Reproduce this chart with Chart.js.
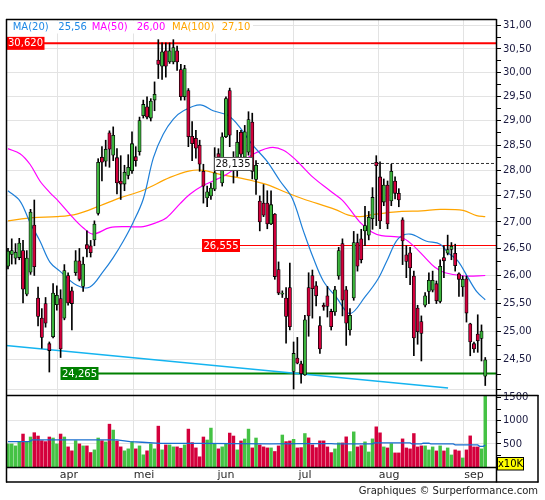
<!DOCTYPE html>
<html><head><meta charset="utf-8">
<script src="https://cdn.jsdelivr.net/npm/chart.js"></script>
<style>
html,body{margin:0;padding:0;background:#fff;}
#wrap{position:relative;width:545px;height:500px;background:#fff;}
canvas{position:absolute;left:0;top:0;}
</style></head><body>
<div id="wrap">
<canvas id="price" width="545" height="500"></canvas>
<canvas id="vol" width="545" height="500"></canvas>
</div>
<script>
// ---------- DATA ----------
const monthLabels = ['apr','mei','jun','jul','aug','sep'];
const monthTicks  = [13.3, 33.3, 55.1, 76.1, 98.5, 121.1];

const priceTicks = [24,24.25,24.5,24.75,25,25.25,25.5,25.75,26,26.25,26.5,26.75,27,27.25,27.5,27.75,28,28.25,28.5,28.75,29,29.25,29.5,29.75,30,30.25,30.5,30.75,31];
const priceTickLabelsFrom = 24.5;
const volumeTicks = [250,500,750,1000,1250,1500];

const open = [26.17,26.39,26.32,26.33,26.46,25.66,26.06,26.94,25.59,25.23,
 25.49,24.78,24.90,25.47,25.58,25.23,26.00,25.72,26.05,26.27,
 25.80,26.57,26.55,26.66,27.16,28.26,28.18,28.75,28.30,28.25,
 27.79,27.73,27.90,27.99,28.27,28.37,29.10,29.28,29.05,29.42,
 30.26,30.13,30.46,30.22,30.22,30.46,30.06,29.49,29.62,28.68,
 28.64,28.50,27.98,27.46,27.50,27.63,28.33,27.75,28.67,29.62,
 28.20,28.26,28.76,28.26,28.36,28.97,27.82,27.40,27.36,27.36,
 26.96,27.15,26.11,25.66,25.59,25.78,24.30,24.53,24.43,24.24,
 25.78,26.00,25.81,25.10,25.46,25.63,25.35,25.34,25.99,26.59,
 25.74,25.02,25.59,26.61,26.68,26.83,26.75,27.06,28.16,27.87,
 27.38,27.71,27.40,27.79,27.55,27.04,26.38,26.42,25.99,25.41,
 25.17,25.46,25.71,25.73,25.85,25.53,26.33,26.41,26.48,26.41,
 26.03,25.79,25.94,25.13,24.78,24.95,24.87,24.22];
const high = [26.50,26.68,26.59,26.69,26.65,26.46,27.24,27.42,25.79,25.40,
 25.60,24.81,25.85,25.81,25.74,26.20,26.05,25.79,26.46,26.50,
 26.34,26.83,26.65,27.02,28.23,28.47,28.60,28.79,28.87,28.43,
 28.29,28.10,28.31,28.77,28.47,29.07,29.42,29.49,29.45,29.80,
 30.70,30.63,30.63,30.63,30.70,30.56,30.17,30.15,29.66,28.98,
 28.80,28.60,28.12,27.69,27.75,28.45,28.43,28.75,29.49,29.67,
 28.37,28.80,28.80,28.90,29.18,29.15,28.19,27.50,27.72,27.60,
 27.60,27.16,26.25,25.72,25.78,26.23,24.81,24.89,24.48,25.28,
 26.05,26.10,25.89,25.26,25.50,25.80,25.39,25.80,26.52,26.68,
 25.80,25.40,26.82,26.77,26.86,27.30,27.20,27.66,28.29,28.17,
 27.83,27.79,28.12,27.87,27.64,27.08,26.55,26.52,26.08,25.46,
 25.27,25.69,26.05,26.08,25.90,26.29,26.55,26.75,26.61,26.58,
 26.05,25.99,25.99,25.14,24.81,25.29,25.11,24.54];
const low = [26.12,26.21,26.21,26.29,25.50,25.63,26.02,26.00,25.09,24.70,
 25.07,24.29,24.88,25.37,24.54,25.20,25.46,25.02,26.00,25.90,
 25.71,26.34,26.34,26.55,27.13,27.79,28.08,28.06,28.19,27.54,
 27.43,27.60,27.83,27.94,28.08,28.30,29.05,29.03,28.99,29.20,
 29.87,29.85,29.90,30.19,30.18,30.04,29.42,29.42,28.47,28.19,
 28.24,27.98,27.36,27.29,27.43,27.60,28.08,27.69,28.65,28.47,
 27.75,27.88,28.19,28.19,28.30,27.83,27.53,26.83,27.10,26.87,
 26.95,25.93,25.65,25.60,24.79,25.02,24.00,24.43,24.10,24.23,
 24.91,25.23,25.45,24.61,25.37,25.25,25.02,25.28,25.93,25.27,
 24.75,24.93,25.55,26.08,26.23,26.55,26.66,26.86,26.93,26.87,
 27.31,26.87,27.31,27.44,27.29,26.20,25.96,25.83,24.57,24.77,
 24.48,25.43,25.49,25.70,25.49,25.50,25.96,26.38,26.29,26.08,
 25.62,25.62,25.16,24.57,24.63,24.63,24.48,24.06];
const close = [26.45,26.46,26.43,26.60,25.75,26.32,27.19,26.16,25.26,24.89,
 25.14,24.66,25.68,25.64,24.69,26.09,25.50,25.49,26.27,25.93,
 26.21,26.49,26.42,26.96,28.16,28.16,28.42,28.42,28.70,27.75,
 27.73,27.96,28.06,28.53,28.19,29.00,29.33,29.07,29.40,29.54,
 30.17,30.44,30.13,30.46,30.53,30.22,29.49,30.08,28.67,28.53,
 28.44,28.12,27.69,27.58,27.65,27.95,28.26,28.67,29.45,28.70,
 28.06,28.56,28.32,28.77,29.02,27.98,28.10,27.00,27.13,26.96,
 27.33,25.98,25.68,25.68,25.26,25.08,24.61,24.44,24.26,25.20,
 25.27,25.76,25.63,24.69,25.43,25.44,25.08,25.74,26.46,25.55,
 25.14,25.28,26.61,26.17,26.29,26.93,27.09,27.47,28.09,27.02,
 27.71,26.96,27.98,27.55,27.42,26.64,26.26,26.14,24.88,24.99,
 24.96,25.63,25.91,25.91,25.54,26.17,26.27,26.48,26.54,26.18,
 25.93,25.93,25.32,24.81,24.69,24.83,25.00,24.50];
const volume = [500,500,457,550,714,550,650,743,671,571,
 550,650,628,500,714,650,436,350,571,500,
 457,457,314,371,628,571,543,928,800,564,
 436,350,393,550,393,457,264,350,500,393,
 885,371,478,478,436,436,407,478,821,528,
 414,221,650,585,843,500,393,436,500,735,
 671,371,564,607,821,414,628,478,436,414,
 414,336,457,693,550,564,600,414,420,725,
 631,479,420,566,566,435,312,392,522,522,
 653,334,761,435,464,544,326,609,870,740,
 435,413,508,305,305,609,413,392,725,435,
 457,457,370,435,348,457,348,413,261,370,
 348,196,370,674,435,435,392,1580];

// moving averages: [bar index, value]
const ma20 = [[0,27.60],[3.2,27.40],[5.85,26.99],[8.5,26.64],[11.2,26.24],[13.8,26.08],[18.3,25.82],[21.8,25.79],[25.4,26.08],[28.0,26.33],[30.7,26.64],[33.3,26.99],[36.0,27.44],[38.7,28.25],[41.3,28.72],[44.0,29.03],[46.7,29.20],[51.1,29.32],[54.6,29.20],[58.6,29.10],[61.7,28.86],[64.9,28.52],[68.8,28.19],[72.4,27.79],[75.6,27.46],[78.6,26.83],[81.2,26.33],[83.9,25.90],[87.4,25.60],[91.0,25.31],[95.0,25.61],[98.5,25.94],[101.1,26.31],[103.8,26.68],[107.0,26.77],[111.2,26.64],[115.0,26.58],[117.1,26.42],[119.7,26.27],[122.4,25.96],[124.8,25.70],[127,25.56]];
const ma50 = [[0,28.43],[3.2,28.33],[5.85,28.12],[8.5,27.79],[11.2,27.56],[13.4,27.40],[17.3,27.08],[20.0,26.89],[22.6,26.77],[27.1,26.89],[31.6,26.91],[36.0,26.91],[39.6,26.99],[42.2,27.08],[45.8,27.35],[48.4,27.53],[51.9,27.70],[58.2,27.92],[64.4,28.28],[69.7,28.45],[73.3,28.40],[76.8,28.19],[81.2,27.86],[85.7,27.60],[89.2,27.40],[93.7,26.99],[96.8,26.81],[99.4,26.74],[104.8,26.70],[107.4,26.58],[111.0,26.33],[113.6,26.15],[116.3,26.05],[121.6,25.99],[127,26.00]];
const ma100 = [[0,27.02],[6.7,27.08],[13.0,27.10],[18.3,27.15],[24.5,27.31],[29.8,27.46],[36.0,27.61],[43.1,27.86],[48.4,27.99],[52.0,28.00],[56.4,27.92],[60.9,27.86],[65.3,27.79],[69.7,27.70],[74.2,27.56],[78.6,27.44],[87.0,27.24],[90.6,27.13],[93.7,27.10],[97.1,27.14],[104.8,27.20],[110.1,27.21],[115.0,27.24],[121.1,27.22],[124.7,27.12],[127,27.10]];
const volMA = [[0,550],[5.8,550],[6.4,586],[29,586],[32.5,550],[35.7,536],[40.4,514],[51,514],[69.7,500],[78,507],[86,505],[87,500],[97,500],[97.5,522],[107,522],[107.5,500],[110,500],[110.5,515],[112,515],[112.5,500],[118.5,500],[119,478],[125,478],[125.5,449],[126.5,449],[127,478]];
const trendLine = [[-0.53,24.75],[117.1,24.02]];

const levels = [30.62, 26.555, 24.265, 28.135];
const levelTexts = ['30,620','26,555','24,265','28,135'];
const legendTexts = ['MA(20)','25,56','MA(50)','26,00','MA(100)','27,10'];
const footerText = 'Graphiques \u00A9 Surperformance.com';
const volUnitText = 'x10K';

// ---------- STYLE ----------
Chart.defaults.font.family = '"DejaVu Sans", Verdana, sans-serif';
const GRID = '#e3e3e3';
const UP = '#3cb43c', DOWN = '#d2003c';
const VUP = '#44c244', VDOWN = '#d4003c';
const XMIN = -0.53, XMAX = 129.86;
const pts = a => a.map(p => ({x:p[0], y:p[1]}));
const isHalf = v => Math.abs(v*2 - Math.round(v*2)) < 1e-6;

const candleColors = open.map((o,i) => close[i] >= o ? UP : DOWN);
const volColors = open.map((o,i) => close[i] >= o ? VUP : VDOWN);

const levelStyles = [
  {color:'#ff0000', width:2, x0:6, boxX:6.5, bg:'#ff0000', fg:'#fff', dash:[]},
  {color:'#ff0000', width:1.2, x0:239, boxX:202, bg:'#ff0000', fg:'#fff', dash:[]},
  {color:'#008000', width:2.2, x0:98, boxX:60.5, bg:'#008000', fg:'#fff', dash:[]},
  {color:'#333333', width:1, x0:251, boxX:214, bg:'#ffffff', fg:'#111', dash:[3,2], border:'#555'}
];

const levelPlugin = {
  id:'levels',
  beforeDatasetsDraw(chart){
    const {ctx, chartArea:a, scales:{y}} = chart;
    ctx.save();
    ctx.beginPath(); ctx.rect(a.left, a.top, a.right-a.left, a.bottom-a.top); ctx.clip();
    levels.forEach((v,k) => {
      const s = levelStyles[k];
      const py = y.getPixelForValue(v);
      ctx.strokeStyle = s.color; ctx.lineWidth = s.width; ctx.setLineDash(s.dash);
      ctx.beginPath(); ctx.moveTo(s.x0, py); ctx.lineTo(a.right, py); ctx.stroke();
    });
    ctx.restore();
  },
  afterDatasetsDraw(chart){
    const {ctx, scales:{y}} = chart;
    ctx.save();
    ctx.font = '10px "DejaVu Sans"';
    ctx.textBaseline = 'middle';
    levels.forEach((v,k) => {
      const s = levelStyles[k];
      const py = y.getPixelForValue(v);
      const w = ctx.measureText(levelTexts[k]).width + 3;
      ctx.fillStyle = s.bg;
      ctx.fillRect(s.boxX, py-6.5, w, 13);
      if (s.border){ ctx.strokeStyle = s.border; ctx.lineWidth = 1; ctx.strokeRect(s.boxX+0.5, py-6, w, 13); }
      ctx.fillStyle = s.fg; ctx.textAlign = 'left';
      ctx.fillText(levelTexts[k], s.boxX+1.5, py+0.5);
    });
    ctx.restore();
  },
  afterDraw(chart){
    const ctx = chart.ctx;
    ctx.save();
    ctx.fillStyle = '#fff';
    ctx.fillRect(7, 20.5, 246, 13);
    ctx.font = '10px "DejaVu Sans"';
    ctx.textBaseline = 'middle'; ctx.textAlign = 'left';
    const xs = [12.7, 58.3, 91.7, 136.7, 172, 221.7];
    const cols = ['#1e88e5','#1e88e5','#ff00ff','#ff00ff','#ffa500','#ffa500'];
    legendTexts.forEach((t,i) => { ctx.fillStyle = cols[i]; ctx.fillText(t, xs[i], 27); });
    ctx.restore();
  }
};

new Chart(document.getElementById('price'), {
  type:'bar',
  data:{datasets:[
    {type:'line', data:pts(ma100), borderColor:'#ffa500', borderWidth:1.2, pointRadius:0, tension:0.35, order:6},
    {type:'line', data:pts(ma50), borderColor:'#ff00ff', borderWidth:1.2, pointRadius:0, tension:0.35, order:5},
    {type:'line', data:pts(ma20), borderColor:'#1e7fd8', borderWidth:1.2, pointRadius:0, tension:0.35, order:4},
    {type:'line', data:pts(trendLine), borderColor:'#14b4f0', borderWidth:1.5, pointRadius:0, order:3},
    {data:open.map((o,i)=>({x:i, y:[low[i], high[i]]})), backgroundColor:'#000', barThickness:1, grouped:false, order:2},
    {data:open.map((o,i)=>({x:i, y:[o, close[i]]})), backgroundColor:candleColors, borderColor:'#000', borderWidth:0.8, borderSkipped:false, barThickness:3.3, minBarLength:1, grouped:false, order:1}
  ]},
  options:{
    responsive:false, animation:false, events:[],
    layout:{padding:{left:6, top:19, right:0, bottom:105}},
    plugins:{legend:{display:false}, tooltip:{enabled:false}},
    scales:{
      x:{type:'linear', min:XMIN, max:XMAX, bounds:'data', offset:false,
         grid:{offset:false, color:GRID, drawTicks:false}, border:{display:false},
         ticks:{display:false},
         afterBuildTicks:s=>{ s.ticks = monthTicks.map(v=>({value:v})); },
         afterFit:s=>{ s.height = 0; }},
      y:{type:'logarithmic', position:'right', min:23.90, max:31.15, bounds:'data',
         grid:{color:c=> (c.tick && isHalf(c.tick.value)) ? GRID : 'rgba(0,0,0,0)', tickColor:'#000', tickLength:5, tickWidth:1},
         border:{display:false},
         ticks:{padding:2, color:'#1a1a40', font:{size:10}, autoSkip:false,
                callback:v=> (isHalf(v) && v >= priceTickLabelsFrom) ? v.toFixed(2).replace('.',',') : ''},
         afterBuildTicks:s=>{ s.ticks = priceTicks.map(v=>({value:v})); },
         afterFit:s=>{ s.width = 49; }}
    }
  },
  plugins:[levelPlugin]
});

const framePlugin = {
  id:'frame',
  afterDraw(chart){
    const ctx = chart.ctx;
    ctx.save();
    ctx.strokeStyle = '#000'; ctx.lineWidth = 1.5;
    const L = (x1,y1,x2,y2)=>{ ctx.beginPath(); ctx.moveTo(x1,y1); ctx.lineTo(x2,y2); ctx.stroke(); };
    L(6.5,19,6.5,482.5);
    L(6,19.5,496.5,19.5);
    L(496.5,19,496.5,482.5);
    L(6,395.5,538.5,395.5);
    L(6,467.5,496.5,467.5);
    L(6,482,538.5,482);
    L(538,395,538,482.5);
    ctx.font = '10px "DejaVu Sans"';
    ctx.fillStyle = '#ffff00';
    ctx.fillRect(497, 457.5, 26.5, 12.5);
    ctx.lineWidth = 1; ctx.strokeRect(497.5, 457.5, 26, 12.5);
    ctx.fillStyle = '#000'; ctx.textAlign = 'center'; ctx.textBaseline = 'middle';
    ctx.fillText(volUnitText, 510.5, 464);
    ctx.fillStyle = '#222'; ctx.textAlign = 'right';
    ctx.fillText(footerText, 538, 491);
    ctx.restore();
  }
};

new Chart(document.getElementById('vol'), {
  type:'bar',
  data:{datasets:[
    {type:'line', data:pts(volMA), borderColor:'#1a6fd0', borderWidth:1.3, pointRadius:0, tension:0, order:0},
    {data:volume.map((v,i)=>({x:i, y:v})), backgroundColor:volColors, barThickness:2.8, grouped:false, clip:0, order:1}
  ]},
  options:{
    responsive:false, animation:false, events:[],
    layout:{padding:{left:6, top:395, right:0, bottom:18}},
    plugins:{legend:{display:false}, tooltip:{enabled:false}},
    scales:{
      x:{type:'linear', min:XMIN, max:XMAX, bounds:'data', offset:false,
         grid:{offset:false, color:GRID, drawTicks:false}, border:{display:false},
         ticks:{autoSkip:false, maxRotation:0, padding:2, labelOffset:11, color:'#2a2a2a', font:{size:11},
                callback:v=>{ const k = monthTicks.indexOf(v); return k>=0 ? monthLabels[k] : ''; }},
         afterBuildTicks:s=>{ s.ticks = monthTicks.map(v=>({value:v})); },
         afterFit:s=>{ s.height = 15; }},
      y:{type:'linear', position:'right', min:0, max:1560, bounds:'data',
         grid:{color:c=> (c.tick && c.tick.value % 500 === 0 && c.tick.value < 1500) ? GRID : 'rgba(0,0,0,0)', tickColor:'#000', tickLength:5},
         border:{display:false},
         ticks:{padding:2, color:'#1a1a40', font:{size:10}, autoSkip:false,
                callback:v=> v % 500 === 0 ? String(v) : ''},
         afterBuildTicks:s=>{ s.ticks = volumeTicks.map(v=>({value:v})); },
         afterFit:s=>{ s.width = 49; }}
    }
  },
  plugins:[framePlugin]
});
</script>
</body></html>
